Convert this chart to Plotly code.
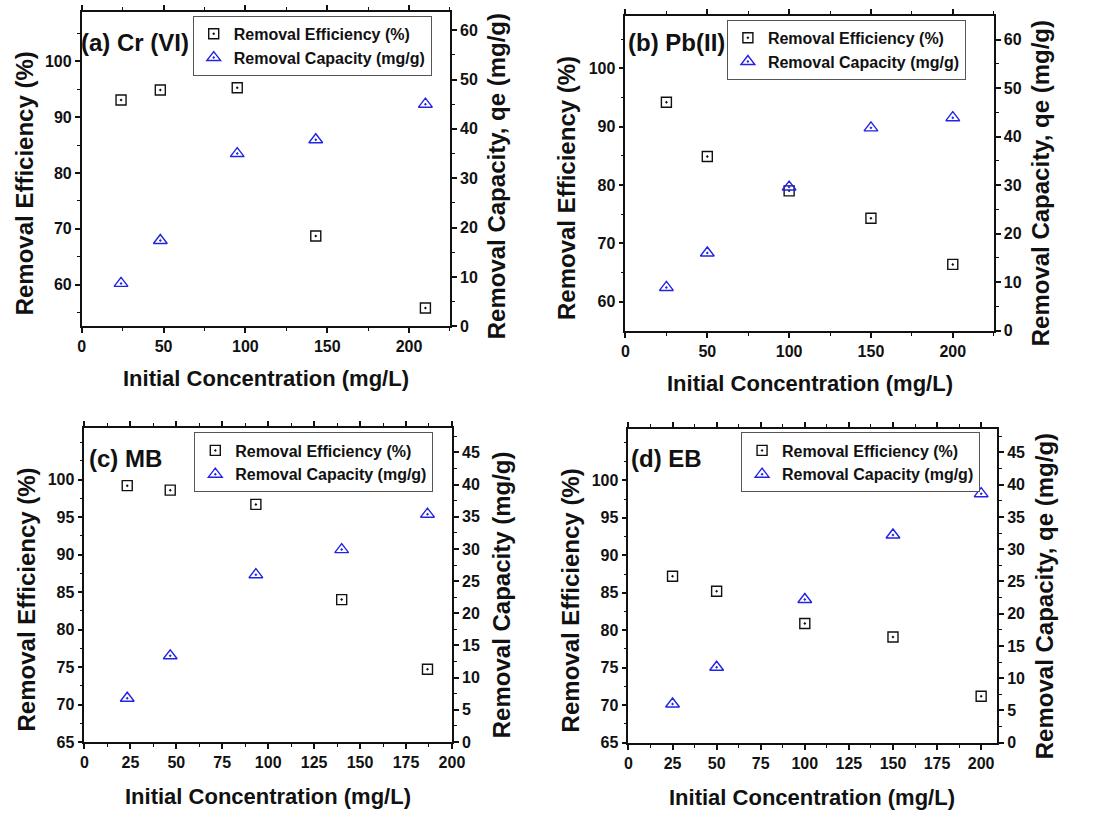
import plotly.graph_objects as go

W, H = 1094, 817

# ---- data -------------------------------------------------------------
cr_conc = [24, 48, 95, 143, 210]
cr_eff = [93.1, 94.9, 95.3, 68.7, 55.8]
cr_cap = [8.7, 17.4, 35.0, 37.8, 45.0]

pb_conc = [25, 50, 100, 150, 200]
pb_eff = [94.2, 84.9, 79.0, 74.3, 66.4]
pb_cap = [8.9, 16.0, 29.6, 41.8, 43.9]

mb_conc = [23.3, 46.7, 93.3, 140, 186.7]
mb_eff = [99.2, 98.6, 96.7, 84.0, 74.7]
mb_cap = [6.8, 13.4, 26.0, 29.9, 35.4]

eb_conc = [25, 50, 100, 150, 200]
eb_eff = [87.2, 85.2, 80.9, 79.1, 71.2]
eb_cap = [6.0, 11.7, 22.2, 32.2, 38.6]

# tick labels
metal_eff_ticks = [60, 70, 80, 90, 100]
dye_eff_ticks = [65, 70, 75, 80, 85, 90, 95, 100]
metal_cap_ticks = [0, 10, 20, 30, 40, 50, 60]
dye_cap_ticks = [0, 5, 10, 15, 20, 25, 30, 35, 40, 45]
metal_conc_ticks = [0, 50, 100, 150, 200]
dye_conc_ticks = [0, 25, 50, 75, 100, 125, 150, 175, 200]

panel_labels = ["(a) Cr (VI)", "(b) Pb(II)", "(c) MB", "(d) EB"]
x_title = "Initial Concentration (mg/L)"
left_title = "Removal Efficiency (%)"
right_titles = ["Removal Capacity, qe (mg/g)", "Removal Capacity, qe (mg/g)",
                "Removal Capacity (mg/g)", "Removal Capacity, qe (mg/g)"]
eff_name = "Removal Efficiency (%)"
cap_name = "Removal Capacity (mg/g)"

# ---- layout geometry (pixels) ----------------------------------------
panels = [
    dict(conc=cr_conc, eff=cr_eff, cap=cr_cap,
         box=(79, 453, 12, 330), xr=[0, 225], xt_vals=metal_conc_ticks, xminor=25,
         yl=[52.5, 108.9], yl_vals=metal_eff_ticks, ylminor=5,
         yr=[0, 63.7], yr_vals=metal_cap_ticks, yrminor=5,
         lab=(76, 43), leg=(191.7, 16),
         xt=(266, 383), ylt=(21.7, 185), yrt=(500, 178)),
    dict(conc=pb_conc, eff=pb_eff, cap=pb_cap,
         box=(631.3, 1005.3, 16, 334.3), xr=[0, 225], xt_vals=metal_conc_ticks, xminor=25,
         yl=[55.05, 109.0], yl_vals=metal_eff_ticks, ylminor=5,
         yr=[0, 64.9], yr_vals=metal_cap_ticks, yrminor=5,
         lab=(631.5, 43.3), leg=(734.3, 20),
         xt=(818.7, 388), ylt=(572, 190), yrt=(1053.7, 185)),
    dict(conc=mb_conc, eff=mb_eff, cap=mb_cap,
         box=(81.7, 455, 432.7, 750.3), xr=[0, 200], xt_vals=dye_conc_ticks, xminor=12.5,
         yl=[65, 106.9], yl_vals=dye_eff_ticks, ylminor=2.5,
         yr=[0, 48.8], yr_vals=dye_cap_ticks, yrminor=2.5,
         lab=(84.5, 463.3), leg=(193.3, 437.3),
         xt=(268.3, 805), ylt=(22.7, 605.8), yrt=(505, 601.7)),
    dict(conc=eb_conc, eff=eb_eff, cap=eb_cap,
         box=(634.3, 1008.7, 433.3, 751), xr=[0, 209], xt_vals=dye_conc_ticks, xminor=12.5,
         yl=[65, 106.9], yl_vals=dye_eff_ticks, ylminor=2.5,
         yr=[0, 48.7], yr_vals=dye_cap_ticks, yrminor=2.5,
         lab=(635, 463.3), leg=(748.7, 437.3),
         xt=(821, 806), ylt=(575.3, 606.7), yrt=(1057, 603.3)),
]

FONT = "Liberation Sans, Arial, sans-serif"
INK = "#111111"
BLUE = "#2323e6"


def px_x(x):
    return x / W


def px_y(y):
    return 1 - y / H


def bold(size):
    return dict(family=FONT, size=size, color=INK, weight="bold")


def btext(vals):
    return [f"<b>{v}</b>" for v in vals]


fig = go.Figure()
annotations = []
layout = {}

for i, p in enumerate(panels):
    n = i + 1
    xa = "x" if n == 1 else f"x{n}"
    yl_id = 2 * n - 1
    yr_id = 2 * n
    yl = "y" if yl_id == 1 else f"y{yl_id}"
    yr = f"y{yr_id}"
    leg = "legend" if n == 1 else f"legend{n}"

    fig.add_trace(go.Scatter(
        x=p["conc"], y=p["eff"], xaxis=xa, yaxis=yl, mode="markers",
        name=f"<b>{eff_name}</b>", legend=leg,
        marker=dict(symbol="square-open-dot", size=10, color=INK,
                    line=dict(width=1.4, color=INK)),
    ))
    fig.add_trace(go.Scatter(
        x=p["conc"], y=p["cap"], xaxis=xa, yaxis=yr, mode="markers",
        name=f"<b>{cap_name}</b>", legend=leg,
        marker=dict(symbol="triangle-up-open-dot", size=12, color=BLUE,
                    line=dict(width=1.4, color=BLUE)),
    ))

    x0, x1, y0, y1 = p["box"]
    axis_common = dict(showgrid=False, zeroline=False, showline=True,
                       linecolor=INK, linewidth=1.8, ticks="outside",
                       ticklen=5, tickwidth=1.5, tickcolor=INK,
                       tickfont=bold(16))

    def minor(step):
        return dict(ticks="outside", ticklen=3, tickwidth=1.2,
                    tickcolor=INK, dtick=step, tick0=0)

    layout["xaxis" if n == 1 else f"xaxis{n}"] = dict(
        axis_common, domain=[px_x(x0), px_x(x1)], anchor=yl,
        range=p["xr"], tickmode="array", tickvals=p["xt_vals"],
        ticktext=btext(p["xt_vals"]),
        mirror="ticks", minor=minor(p["xminor"]),
    )
    layout["yaxis" if yl_id == 1 else f"yaxis{yl_id}"] = dict(
        axis_common, domain=[px_y(y1), px_y(y0)], anchor=xa,
        range=p["yl"], tickmode="array", tickvals=p["yl_vals"],
        ticktext=btext(p["yl_vals"]), side="left",
        minor=minor(p["ylminor"]),
    )
    layout[f"yaxis{yr_id}"] = dict(
        axis_common, domain=[px_y(y1), px_y(y0)], anchor=xa,
        overlaying=yl, side="right",
        range=p["yr"], tickmode="array", tickvals=p["yr_vals"],
        ticktext=btext(p["yr_vals"]),
        minor=minor(p["yrminor"]),
    )

    layout[leg] = dict(
        x=px_x(p["leg"][0]), y=px_y(p["leg"][1]), xanchor="left", yanchor="top",
        xref="paper", yref="paper",
        bgcolor="white", bordercolor="#555555", borderwidth=1,
        font=bold(16), tracegroupgap=0, itemwidth=30,
    )

    # panel label
    annotations.append(dict(
        text=f"<b>{panel_labels[i]}</b>", x=px_x(p["lab"][0]), y=px_y(p["lab"][1]),
        xref="paper", yref="paper", xanchor="left", yanchor="middle",
        showarrow=False, font=bold(24),
    ))
    # axis titles
    annotations.append(dict(
        text=f"<b>{x_title}</b>", x=px_x(p["xt"][0]), y=px_y(p["xt"][1]),
        xref="paper", yref="paper", xanchor="center", yanchor="middle",
        showarrow=False, font=bold(22),
    ))
    annotations.append(dict(
        text=f"<b>{left_title}</b>", x=px_x(p["ylt"][0]), y=px_y(p["ylt"][1]),
        xref="paper", yref="paper", xanchor="center", yanchor="middle",
        textangle=-90, showarrow=False, font=bold(24),
    ))
    annotations.append(dict(
        text=f"<b>{right_titles[i]}</b>", x=px_x(p["yrt"][0]), y=px_y(p["yrt"][1]),
        xref="paper", yref="paper", xanchor="center", yanchor="middle",
        textangle=-90, showarrow=False, font=bold(24),
    ))

fig.update_layout(
    width=W, height=H,
    margin=dict(l=0, r=0, t=0, b=0),
    paper_bgcolor="white", plot_bgcolor="white",
    annotations=annotations,
    **layout,
)

fig.write_html("out.html")
